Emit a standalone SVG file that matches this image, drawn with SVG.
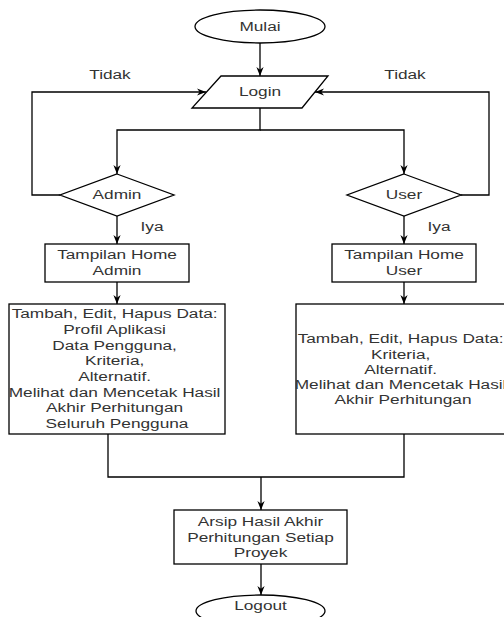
<svg xmlns="http://www.w3.org/2000/svg" width="504" height="617" viewBox="0 0 504 617">
<style>
.s{fill:#fff;stroke:#000;stroke-width:1.3}
.c{fill:none;stroke:#000;stroke-width:1.3}
.t{font-family:"Liberation Sans",Arial,sans-serif;font-size:12.5px;fill:#333;text-anchor:middle}
</style>
<defs>
<marker id="a" viewBox="0 0 10 10" refX="10" refY="5" markerWidth="9" markerHeight="9" markerUnits="userSpaceOnUse" orient="auto">
<path d="M0,1 L10,5 L0,9 L3,5 Z" fill="#000"/>
</marker>
</defs>
<rect width="504" height="617" fill="#fff"/>
<g id="connectors">
<path class="c" d="M260,43 V76" marker-end="url(#a)"/>
<path class="c" d="M60,195 H32 V92 H206" marker-end="url(#a)"/>
<path class="c" d="M461,195 H489 V92 H315" marker-end="url(#a)"/>
<path class="c" d="M260,108 V130 H117 V174" marker-end="url(#a)"/>
<path class="c" d="M260,130 H404 V174" marker-end="url(#a)"/>
<path class="c" d="M117,216 V244" marker-end="url(#a)"/>
<path class="c" d="M404,216 V244" marker-end="url(#a)"/>
<path class="c" d="M117,282 V304" marker-end="url(#a)"/>
<path class="c" d="M404,282 V304" marker-end="url(#a)"/>
<path class="c" d="M108,434 V477 H404 V434"/>
<path class="c" d="M261,477 V510" marker-end="url(#a)"/>
<path class="c" d="M261,564 V595" marker-end="url(#a)"/>
<text class="t" transform="translate(110,0) scale(1.38,1)" x="0" y="79.3">Tidak</text>
<text class="t" transform="translate(405,0) scale(1.38,1)" x="0" y="79.3">Tidak</text>
<text class="t" transform="translate(152,0) scale(1.38,1)" x="0" y="231.3">Iya</text>
<text class="t" transform="translate(439,0) scale(1.38,1)" x="0" y="231.3">Iya</text>
</g>
<g id="mulai">
<ellipse class="s" cx="260" cy="26.5" rx="65" ry="16.5"/>
<text class="t" transform="translate(260,0) scale(1.38,1)" x="0" y="30.8">Mulai</text>
</g>
<g id="login">
<polygon class="s" points="221,76 328,76 302,108 192,108"/>
<text class="t" transform="translate(260,0) scale(1.38,1)" x="0" y="96.3">Login</text>
</g>
<g id="admin">
<polygon class="s" points="117,174 174,195 117,216 60,195"/>
<text class="t" transform="translate(117,0) scale(1.38,1)" x="0" y="199">Admin</text>
</g>
<g id="user">
<polygon class="s" points="404,174 461,195 404,216 347,195"/>
<text class="t" transform="translate(404,0) scale(1.38,1)" x="0" y="199">User</text>
</g>
<g id="home-admin">
<rect class="s" x="45" y="244" width="144" height="38"/>
<text class="t" transform="translate(117,0) scale(1.38,1)"><tspan x="0" y="259.3">Tampilan Home</tspan><tspan x="0" y="275">Admin</tspan></text>
</g>
<g id="home-user">
<rect class="s" x="332" y="244" width="144" height="38"/>
<text class="t" transform="translate(404,0) scale(1.38,1)"><tspan x="0" y="259.3">Tampilan Home</tspan><tspan x="0" y="275">User</tspan></text>
</g>
<g id="menu-admin">
<rect class="s" x="9" y="304" width="216" height="130"/>
<text class="t" transform="translate(117,0) scale(1.38,1)">
<tspan x="0" y="318.3">Tambah, Edit, Hapus Data:</tspan>
<tspan x="0" y="334">Profil Aplikasi</tspan>
<tspan x="0" y="349.7">Data Pengguna,</tspan>
<tspan x="0" y="365.4">Kriteria,</tspan>
<tspan x="0" y="381.1">Alternatif.</tspan>
<tspan x="0" y="396.8">Melihat dan Mencetak Hasil</tspan>
<tspan x="0" y="412.5">Akhir Perhitungan</tspan>
<tspan x="0" y="428.2">Seluruh Pengguna</tspan>
</text>
</g>
<g id="menu-user">
<rect class="s" x="296" y="304" width="214" height="130"/>
<text class="t" transform="translate(403,0) scale(1.38,1)">
<tspan x="0" y="343.3">Tambah, Edit, Hapus Data:</tspan>
<tspan x="0" y="358.6">Kriteria,</tspan>
<tspan x="0" y="373.9">Alternatif.</tspan>
<tspan x="0" y="389.2">Melihat dan Mencetak Hasil</tspan>
<tspan x="0" y="404.5">Akhir Perhitungan</tspan>
</text>
</g>
<g id="arsip">
<rect class="s" x="174" y="510" width="173" height="54"/>
<text class="t" transform="translate(260.5,0) scale(1.38,1)"><tspan x="0" y="526">Arsip Hasil Akhir</tspan><tspan x="0" y="541.6">Perhitungan Setiap</tspan><tspan x="0" y="557.2">Proyek</tspan></text>
</g>
<g id="logout">
<ellipse class="s" cx="260.5" cy="611" rx="64.5" ry="16"/>
<text class="t" transform="translate(260.5,0) scale(1.38,1)" x="0" y="610.5">Logout</text>
</g>
</svg>
